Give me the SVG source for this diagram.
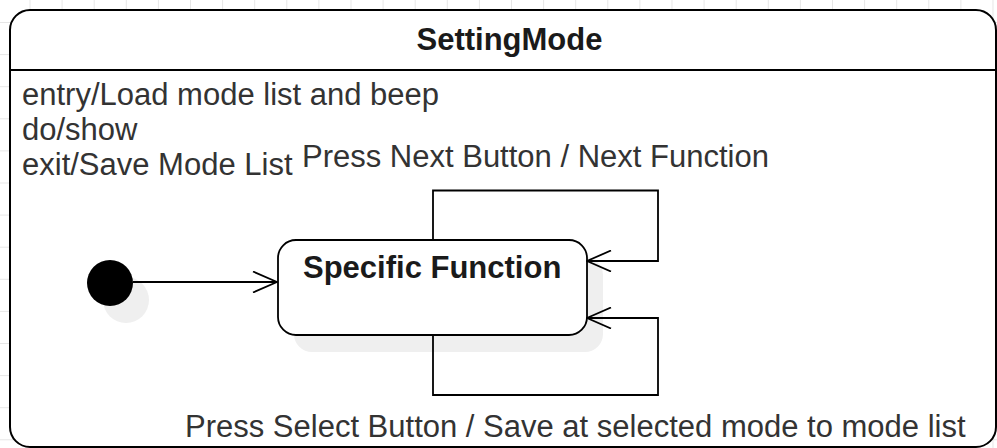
<svg xmlns="http://www.w3.org/2000/svg" width="997" height="448" viewBox="0 0 997 448">
  <defs>
    <pattern id="grid" patternUnits="userSpaceOnUse" x="29.5" y="22" width="32.1" height="32.1">
      <path d="M0.5 0V32.1M0 0.5H32.1" fill="none" stroke="#e6e6e6" stroke-width="1"/>
    </pattern>
    <marker id="open" markerUnits="userSpaceOnUse" viewBox="0 0 26 22" refX="25" refY="11" markerWidth="26" markerHeight="22" orient="auto">
      <path d="M1 0.5L25 11L1 21.5" fill="none" stroke="#000" stroke-width="1.8"/>
    </marker>
  </defs>
  <style>
    .t { font-family: "Liberation Sans", Arial, sans-serif; font-size: 31px; fill: #333; }
    .b { font-family: "Liberation Sans", Arial, sans-serif; font-size: 31px; font-weight: bold; fill: #1a1a1a; }
    .edge { fill: none; stroke: #000; stroke-width: 1.8; }
    .shadow { fill: #efefef; }
  </style>
  <rect x="0" y="0" width="997" height="448" fill="#fff"/>
  <rect x="0" y="0" width="997" height="448" fill="url(#grid)"/>

  <g id="SettingMode">
    <rect x="10" y="10" width="986" height="437" rx="20" ry="20" fill="#fff" stroke="#000" stroke-width="2"/>
    <line x1="10" y1="70" x2="996" y2="70" stroke="#000" stroke-width="2"/>
    <text class="b" x="509.5" y="50" text-anchor="middle">SettingMode</text>
    <text class="t" x="22" y="105">entry/Load mode list and beep</text>
    <text class="t" x="22" y="140">do/show</text>
    <text class="t" x="22" y="175">exit/Save Mode List</text>
  </g>

  <g id="initial">
    <circle class="shadow" cx="126" cy="300" r="23"/>
    <circle cx="110" cy="283" r="23" fill="#000"/>
  </g>

  <g id="SpecificFunction">
    <rect class="shadow" x="294" y="257" width="309" height="95" rx="18" ry="18"/>
    <rect x="278" y="240" width="309" height="95" rx="18" ry="18" fill="#fff" stroke="#000" stroke-width="1.8"/>
    <text class="b" x="303" y="278">Specific Function</text>
  </g>

  <g id="connectors">
    <path class="edge" d="M133 282H277" marker-end="url(#open)"/>
    <path class="edge" d="M433 240V190.5H658V261H587" marker-end="url(#open)"/>
    <path class="edge" d="M433 335V395H658V318H587" marker-end="url(#open)"/>
    <text class="t" x="302" y="167">Press Next Button / Next Function</text>
    <text class="t" x="185" y="437">Press Select Button / Save at selected mode to mode list</text>
  </g>
</svg>
